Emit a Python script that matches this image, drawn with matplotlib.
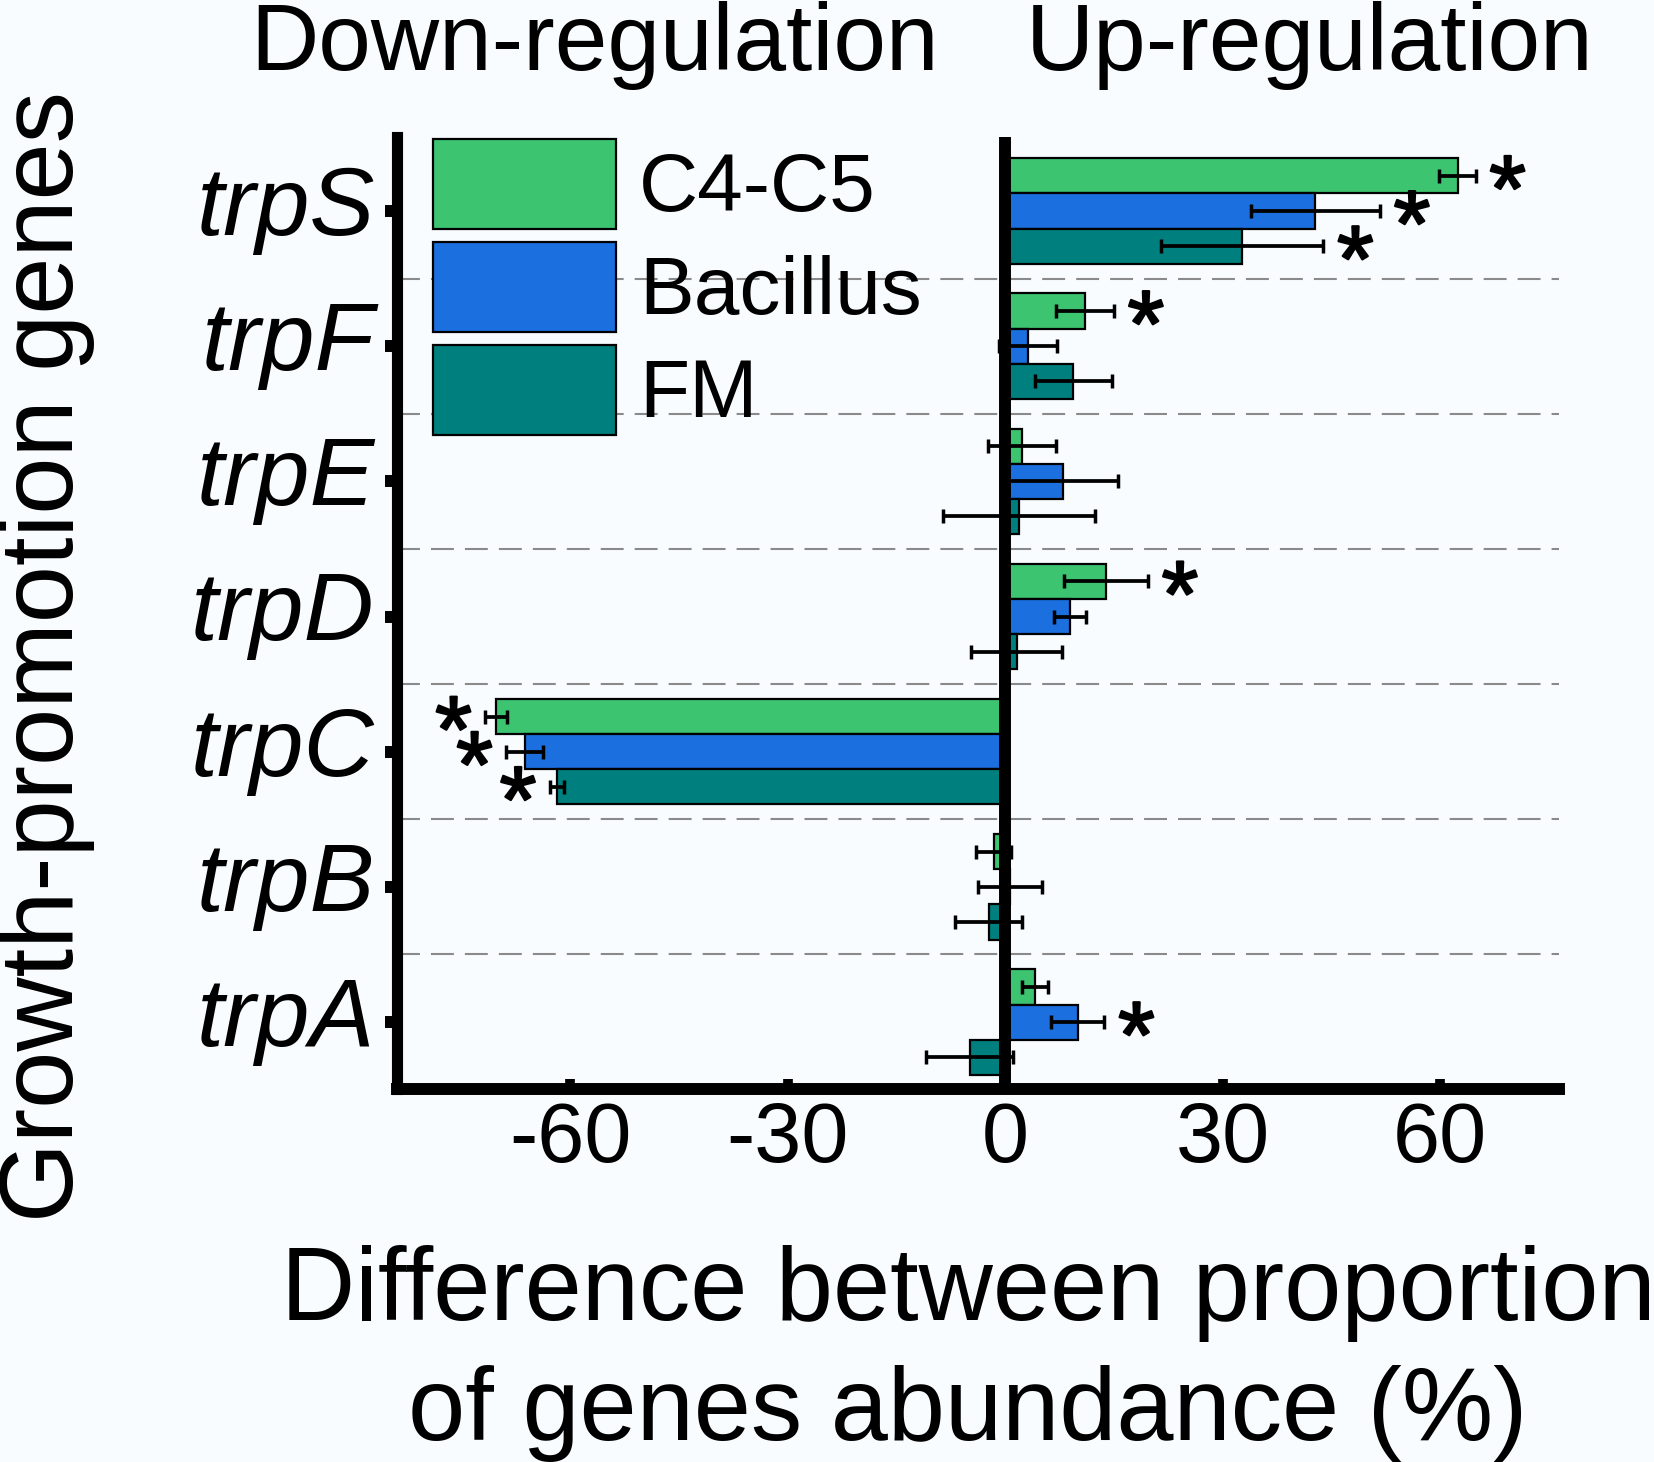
import numpy as np
import matplotlib
matplotlib.use("Agg")
import matplotlib.pyplot as plt
import matplotlib.patheffects as pe
from matplotlib.transforms import ScaledTranslation

plt.rcParams['font.family'] = ['Liberation Sans', 'DejaVu Sans']
plt.rcParams['axes.unicode_minus'] = False

# ---------------- data ----------------
genes = ['trpS', 'trpF', 'trpE', 'trpD', 'trpC', 'trpB', 'trpA']
series_names = ['C4-C5', 'Bacillus', 'FM']
c4c5 = [62.4, 11.0, 2.3, 13.9, -70.2, -1.6, 4.1]
c4c5_err = [2.5, 4.0, 4.7, 5.8, 1.5, 2.4, 1.8]
bacillus = [42.8, 3.2, 8.0, 9.0, -66.3, 0.7, 10.0]
bacillus_err = [8.9, 4.0, 7.6, 2.2, 2.5, 4.4, 3.7]
fm = [32.7, 9.4, 1.9, 1.6, -61.8, -2.3, -4.9]
fm_err = [11.2, 5.3, 10.5, 6.3, 1.0, 4.6, 6.0]
c4c5_sig = [True, True, False, True, True, False, False]
bacillus_sig = [True, False, False, False, True, False, True]
fm_sig = [True, False, False, False, True, False, False]
xticks = [-60, -30, 0, 30, 60]

colors = ['#3dc471', '#1b6fde', '#007f7f']
bg = '#f8fcff'

W, H = 1654, 1462
fig = plt.figure(figsize=(W / 100, H / 100), dpi=100, facecolor=bg)
ax = fig.add_axes([397 / W, 1 - 1089 / H, (1559 - 397) / W, (1089 - 137) / H])
ax.set_facecolor(bg)

y = np.arange(len(genes))
bh = 0.26
offsets = [-bh, 0.0, bh]
vals = [c4c5, bacillus, fm]
errs = [c4c5_err, bacillus_err, fm_err]
sigs = [c4c5_sig, bacillus_sig, fm_sig]

# dashed separators
for yy in np.arange(0.5, len(genes) - 0.5, 1.0):
    ax.axhline(yy, color='#8a8a8a', lw=1.5, linestyle=(0, (11, 5.3)), zorder=0.5)

handles = []
for name, v, e, off, c in zip(series_names, vals, errs, offsets, colors):
    b = ax.barh(y + off, v, height=bh, color=c, edgecolor='black', linewidth=1.6,
                xerr=e, label=name, zorder=2,
                error_kw=dict(ecolor='black', elinewidth=2.7, capsize=5.0,
                              capthick=2.5, zorder=4))
    handles.append(b)

# significance stars
for v, e, s, off in zip(vals, errs, sigs, offsets):
    for i in range(len(genes)):
        if s[i]:
            if v[i] >= 0:
                xe, dx = v[i] + e[i], 23
            else:
                xe, dx = v[i] - e[i], -23
            ax.annotate('*', xy=(xe, y[i] + off), xytext=(dx, -32.5),
                        textcoords='offset points', ha='center', va='baseline',
                        fontsize=68, color='black', zorder=5,
                        path_effects=[pe.withStroke(linewidth=1.6, foreground='black')])

ax.axvline(0, color='black', lw=8.6, zorder=3)

ax.set_xlim(-83.9, 76.4)
ax.set_ylim(len(genes) - 1 + 0.495, -0.547)
ax.set_xticks(xticks, [str(t) for t in xticks])
ax.set_yticks(y, genes, fontstyle='italic')

for side in ['top', 'right']:
    ax.spines[side].set_visible(False)
ax.spines['left'].set_linewidth(8)
ax.spines['bottom'].set_linewidth(8.6)

ax.tick_params(axis='x', direction='in', length=7, width=7, labelsize=61, pad=8)
ax.tick_params(axis='y', direction='out', length=9, width=8.6, labelsize=70, pad=7)
shift_up = ScaledTranslation(0, 8 / 72, fig.dpi_scale_trans)
for lbl in ax.get_yticklabels():
    lbl.set_transform(lbl.get_transform() + shift_up)

leg = ax.legend(handles=handles, loc='upper left',
                bbox_to_anchor=(433 / W, 1 - 139 / H), bbox_transform=fig.transFigure,
                frameon=False, fontsize=59, handlelength=183 / 82, handleheight=1.31,
                handletextpad=0.28, borderpad=0, borderaxespad=0, labelspacing=0.16)

ax.set_xlabel('Difference between proportion\nof genes abundance (%)', fontsize=74)
ax.xaxis.label.set_linespacing(1.3)
ax.xaxis.set_label_coords((968 - 397) / (1559 - 397), (1089 - 1245) / (1089 - 137))
ax.set_ylabel('Growth-promotion genes', fontsize=74)
ax.yaxis.set_label_coords((95 - 397) / (1559 - 397), (1089 - 657) / (1089 - 137))

fig.text(595 / W, 1 - 70 / H, 'Down-regulation', ha='center', va='baseline', fontsize=68)
fig.text(1310 / W, 1 - 70 / H, 'Up-regulation', ha='center', va='baseline', fontsize=68)

fig.savefig('out.png', dpi=100, facecolor=bg)
